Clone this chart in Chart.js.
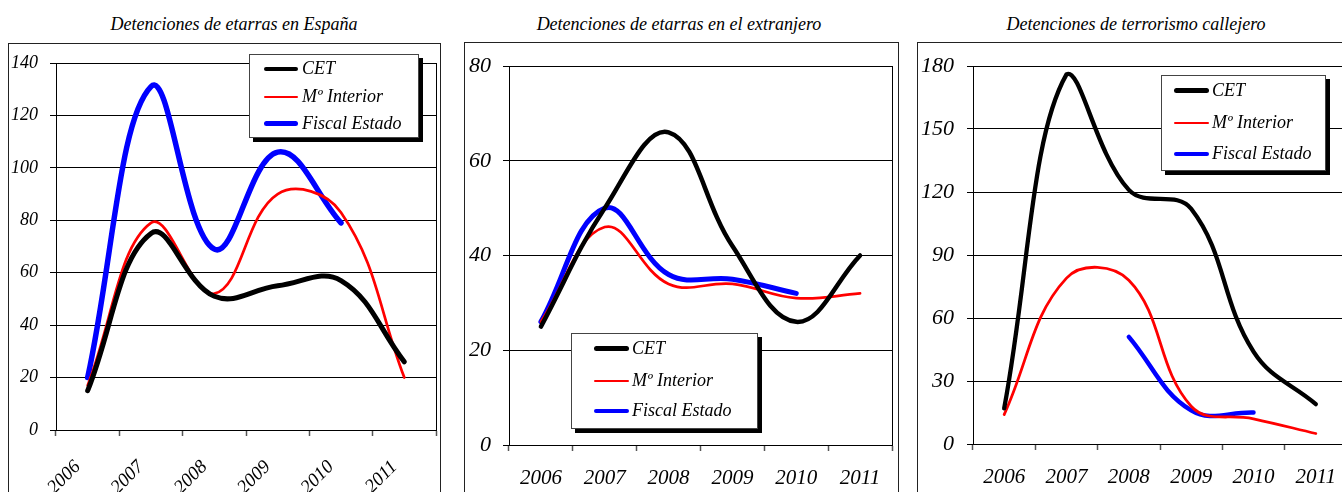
<!DOCTYPE html>
<html><head><meta charset="utf-8">
<script src="https://cdn.jsdelivr.net/npm/chart.js@4.4.1/dist/chart.umd.min.js"></script>
<style>
html,body{margin:0;padding:0;width:1342px;height:492px;overflow:hidden;background:#fff;}
.title{position:absolute;top:14px;font:italic 18px 'Liberation Serif','Times New Roman',serif;line-height:20px;white-space:nowrap;transform:translateX(-50%);color:#000;}
.box{position:absolute;border:1px solid #222;background:#fff;}
.box canvas{position:absolute;left:0;top:0;}
.legend{position:absolute;background:#fff;border:1px solid #444;box-shadow:4px 4px 0 #000;font:italic 18px 'Liberation Serif','Times New Roman',serif;color:#000;}
.legend .s{position:absolute;border-radius:3px;}
.legend .t{position:absolute;line-height:20px;white-space:nowrap;}
</style></head>
<body>
<script>
// ---------- data ----------
const years = ['2006', '2007', '2008', '2009', '2010', '2011'];
const seriesNames = ['CET', 'Mº Interior', 'Fiscal Estado'];
const panelTitles = ['Detenciones de etarras en España', 'Detenciones de etarras en el extranjero', 'Detenciones de terrorismo callejero'];

// Detenciones de etarras en España
const espanaCET      = [15, 75, 51, 55, 57, 26];
const espanaInterior = [17, 79, 52, 90, 83, 20];
const espanaFiscal   = [20, 131, 69, 106, 79, null];

// Detenciones de etarras en el extranjero
const extranjeroCET      = [25, 50, 66, 42, 26, 40];
const extranjeroInterior = [26, 46, 34, 34, 31, 32];
const extranjeroFiscal   = [26, 50, 36, 35, 32, null];

// Detenciones de terrorismo callejero
const callejeroCET      = [17, 176, 121, 112, 44, 19];
const callejeroInterior = [14, 79, 78, 18, 12, 5];
const callejeroFiscal   = [null, null, 51, 16, 15, null];

// y-axis tick ranges
const yAxis1 = {max: 140, step: 20};
const yAxis2 = {max: 80, step: 20};
const yAxis3 = {max: 180, step: 30};

// ---------- styles / layout ----------
const seriesColors = ['#000000', '#ff0000', '#0000ff'];
const FONT = "'Liberation Serif', 'Times New Roman', serif";

const panels = [
  { title: panelTitles[0], titleX: 234, data: [espanaCET, espanaInterior, espanaFiscal], y: yAxis1,
    box: {left: 8, top: 43, w: 431}, canvas: {w: 431, h: 449},
    area: {left: 47, top: 19, right: 4, xh: 63},
    widths: [5, 2.7, 5.5], yFont: 18, xFont: 19, rot: 45, xPad: 20, xOff: -10, yPad: 12,
    legend: {left: 249, top: 54, w: 168, h: 82, rows: [14, 42, 68.5], sx: 14, sw: 34, tx: 52} },
  { title: panelTitles[1], titleX: 679, data: [extranjeroCET, extranjeroInterior, extranjeroFiscal], y: yAxis2,
    box: {left: 464, top: 42, w: 433}, canvas: {w: 433, h: 450},
    area: {left: 44, top: 23, right: 6, xh: 48},
    widths: [4.5, 2.7, 5], yFont: 22, xFont: 21, rot: 0, xPad: 15, xOff: 0, yPad: 12,
    legend: {left: 571, top: 333, w: 185, h: 94, rows: [14.5, 47, 77], sx: 22, sw: 35, tx: 60} },
  { title: panelTitles[2], titleX: 1136, data: [callejeroCET, callejeroInterior, callejeroFiscal], y: yAxis3,
    box: {left: 917, top: 42, w: 440}, canvas: {w: 432, h: 450},
    area: {left: 55, top: 23, right: 3, xh: 49},
    widths: [4.3, 2.8, 4.5], yFont: 22, xFont: 21, rot: 0, xPad: 15, xOff: 0, yPad: 13,
    legend: {left: 1161, top: 75, w: 163, h: 94, rows: [14.5, 47, 78], sx: 12, sw: 35, tx: 50} }
];

const frame = {
  id: 'frame',
  afterDraw(chart) {
    const a = chart.chartArea, c = chart.ctx;
    c.save(); c.strokeStyle = '#000'; c.lineWidth = 1;
    c.strokeRect(Math.round(a.left) + 0.5, Math.round(a.top) + 0.5, Math.round(a.right - a.left), Math.round(a.bottom - a.top));
    c.restore();
  }
};

panels.forEach((p, pi) => {
  const t = document.createElement('div');
  t.className = 'title'; t.textContent = p.title; t.style.left = p.titleX + 'px';
  document.body.appendChild(t);

  const box = document.createElement('div');
  box.className = 'box';
  box.style.left = p.box.left + 'px'; box.style.top = p.box.top + 'px';
  box.style.width = p.box.w + 'px'; box.style.height = '520px';
  const cv = document.createElement('canvas');
  cv.width = p.canvas.w; cv.height = p.canvas.h;
  cv.style.width = p.canvas.w + 'px'; cv.style.height = p.canvas.h + 'px';
  box.appendChild(cv);
  document.body.appendChild(box);

  new Chart(cv, {
    type: 'line',
    data: {
      labels: years,
      datasets: p.data.map((d, i) => ({
        label: seriesNames[i], data: d,
        borderColor: seriesColors[i], backgroundColor: seriesColors[i],
        borderWidth: p.widths[i], pointRadius: 0, tension: 0.4,
        borderCapStyle: 'round', borderJoinStyle: 'round', fill: false, spanGaps: false
      }))
    },
    options: {
      responsive: false, animation: false, devicePixelRatio: 1,
      layout: {padding: {left: 0, top: p.area.top, right: p.area.right, bottom: 0}},
      plugins: {legend: {display: false}, title: {display: false}, tooltip: {enabled: false}},
      scales: {
        x: {
          type: 'category', offset: true,
          grid: {offset: true, drawOnChartArea: false, drawTicks: true, tickLength: 6, tickColor: '#555', tickWidth: 1.5},
          border: {display: true, color: '#000', width: 1},
          ticks: {color: '#000', font: {family: FONT, size: p.xFont, style: 'italic'}, autoSkip: false,
                  minRotation: p.rot, maxRotation: p.rot, padding: p.xPad, labelOffset: p.xOff},
          afterFit(s) { s.height = p.area.xh; s.paddingLeft = 0; s.paddingRight = 0; }
        },
        y: {
          min: 0, max: p.y.max,
          grid: {color: '#000', lineWidth: 1, drawTicks: true, tickLength: 6, tickColor: '#000'},
          border: {display: true, color: '#000', width: 1},
          ticks: {stepSize: p.y.step, color: '#000', font: {family: FONT, size: p.yFont, style: 'italic'}, padding: p.yPad},
          afterFit(s) { s.width = p.area.left; s.paddingTop = 0; s.paddingBottom = 0; }
        }
      }
    },
    plugins: [frame]
  });

  // legend built from the dataset names / styles
  const L = p.legend;
  const lg = document.createElement('div');
  lg.className = 'legend';
  lg.style.left = L.left + 'px'; lg.style.top = L.top + 'px';
  lg.style.width = L.w + 'px'; lg.style.height = L.h + 'px';
  seriesNames.forEach((name, i) => {
    const lw = i === 1 ? 2.6 : 4.6;
    const s = document.createElement('div');
    s.className = 's';
    s.style.left = L.sx + 'px'; s.style.width = L.sw + 'px';
    s.style.height = lw + 'px'; s.style.top = (L.rows[i] - lw / 2) + 'px';
    s.style.background = seriesColors[i];
    lg.appendChild(s);
    const tx = document.createElement('div');
    tx.className = 't'; tx.textContent = name;
    tx.style.left = L.tx + 'px'; tx.style.top = (L.rows[i] - 11) + 'px';
    lg.appendChild(tx);
  });
  document.body.appendChild(lg);
});
</script>
</body></html>
